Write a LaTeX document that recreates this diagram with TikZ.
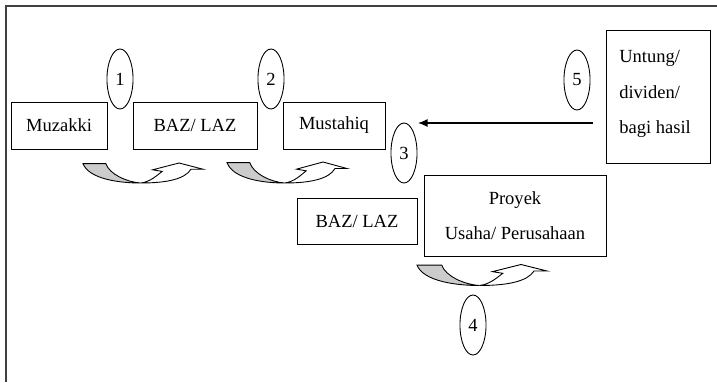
\documentclass[tikz,border=0pt]{standalone}
\usepackage{fontspec}
\setmainfont{Liberation Serif}
\usepackage{tikz}
\usetikzlibrary{arrows.meta,positioning,shapes.geometric}

\begin{document}
\begin{tikzpicture}[x=0.675pt,y=-0.675pt,
      every node/.style={font=\fontsize{12.5}{24}\selectfont},
      box/.style={draw,line width=0.6pt,inner sep=0pt,align=center},
      num/.style={draw,ellipse,line width=0.6pt,inner sep=0pt,minimum width=17.6pt,minimum height=40.5pt},
      bendarrow/.pic={
        \filldraw[fill=gray!40,line width=0.6pt] (0,0.03) -- (0.19,0.03) .. controls (0.22,0.55) and (0.36,0.95) .. (0.48,1)
          .. controls (0.3,1) and (0.05,0.8) .. (0,0.03) -- cycle;
        \draw[fill=white,line width=0.6pt] (0.48,1) .. controls (0.56,0.95) and (0.62,0.6) .. (0.66,0.42) -- (0.58,0.34)
          -- (0.8,0) -- (1,0.31) -- (0.9,0.31) .. controls (0.85,0.8) and (0.7,1) .. (0.48,1) -- cycle;
      }]
      \useasboundingbox (0,0) rectangle (717,382);
      \draw[line width=1pt,black!75] (717,6) -- (6,6) -- (6,382);
      % top row
      \node[box,minimum width=64.8pt,minimum height=31.7pt] (muz) at (59,125.5) {Muzakki};
      \node[box,minimum width=83.7pt,minimum height=31.7pt] (baz) at (195,125.5) {BAZ/ LAZ};
      \node[box,minimum width=68.9pt,minimum height=31.7pt] (mus) at (334,125.5) {Mustahiq};
      \node[box,minimum width=70.2pt,minimum height=89.8pt] (untung) at (658,96.5) {};
      \node[anchor=north west,align=left,inner sep=0pt] (untungtxt) at (619,50) {Untung/\\dividen/\\bagi hasil};
      % lower row
      \node[box,minimum width=81pt,minimum height=31pt] (baztwo) at (357,221) {BAZ/ LAZ};
      \node[box,minimum width=122.9pt,minimum height=54.7pt] (proyek) at (515,215.5) {Proyek\\Usaha/ Perusahaan};
      % steps
      \node[num] (one) at (120,79) {1};
      \node[num] (two) at (271,79) {2};
      \node[num] (three) at (404,153) {3};
      \node[num] (four) at (473,325) {4};
      \node[num] (five) at (577,80) {5};
      \pic[shift={(83,163)},xscale=120,yscale=20] {bendarrow};
      \pic[shift={(227,162)},xscale=120,yscale=21] {bendarrow};
      \pic[shift={(417,264.5)},xscale=130,yscale=21] {bendarrow};
      % return flow
      \coordinate (retstart) at (593,123);
      \coordinate (retend) at (418,123);
      \draw[-{Latex[length=6.5pt,width=5.5pt]},line width=0.9pt] (retstart) -- (retend);
    \end{tikzpicture}
\end{document}
